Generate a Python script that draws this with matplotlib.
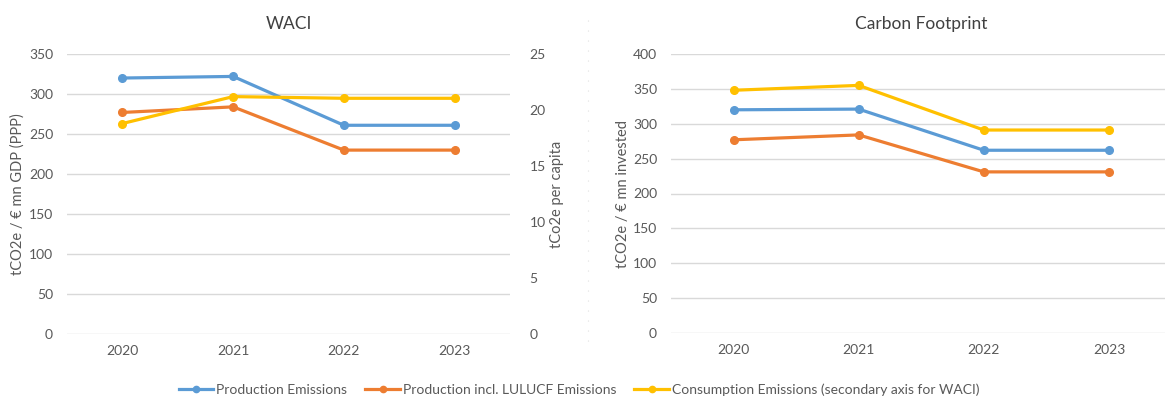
import matplotlib
matplotlib.use("Agg")
import matplotlib.pyplot as plt
from matplotlib.lines import Line2D

plt.rcParams['font.family'] = ['Lato', 'DejaVu Sans']

years = ["2020", "2021", "2022", "2023"]

# WACI (tCO2e / € mn GDP, PPP) and consumption per capita (secondary axis)
waci_production = [320, 322, 261, 261]
waci_lulucf = [277, 284, 230, 230]
waci_consumption_per_capita = [18.8, 21.2, 21.05, 21.05]

# Carbon footprint (tCO2e / € mn invested)
cf_production = [320, 321, 262, 262]
cf_lulucf = [277, 284, 231, 231]
cf_consumption = [348, 355, 291, 291]

series_names = ["Production Emissions",
                "Production incl. LULUCF Emissions",
                "Consumption Emissions (secondary axis for WACI)"]
colors = ["#5B9BD5", "#ED7D31", "#FFC000"]

text_color = "#595959"
grid_color = "#D9D9D9"
lw = 2.3
ms = 5.5

fig = plt.figure(figsize=(11.65, 3.99), dpi=100)

W, H = 1165, 399
def rect(l, r, t, b):
    return [l / W, 1 - b / H, (r - l) / W, (b - t) / H]

def style_axis(ax, ymax, step):
    ax.set_xlim(-0.5, len(years) - 0.5)
    ax.set_ylim(0, ymax)
    ax.set_yticks(range(0, ymax + 1, step))
    ax.set_xticks(range(len(years)))
    ax.set_xticklabels(years)
    ax.grid(axis='y', color=grid_color, linewidth=1.0)
    ax.set_axisbelow(True)
    for s in ax.spines.values():
        s.set_visible(False)
    ax.tick_params(axis='both', length=0, labelsize=10, colors=text_color)
    ax.tick_params(axis='y', pad=10)
    ax.tick_params(axis='x', pad=8)

x = list(range(len(years)))

# --- WACI panel ---
ax1 = fig.add_axes(rect(67, 510, 54, 334.3))
style_axis(ax1, 350, 50)
ax1.plot(x, waci_production, color=colors[0], lw=lw, marker='o', ms=ms, zorder=3)
ax1.plot(x, waci_lulucf, color=colors[1], lw=lw, marker='o', ms=ms, zorder=3)
ax1.set_ylabel("tCO2e / € mn GDP (PPP)", fontsize=10.5, color=text_color, labelpad=3)
ax1.set_title("WACI", fontsize=12.5, color="#404040", pad=18)

ax1b = ax1.twinx()
ax1b.set_ylim(0, 25)
ax1b.set_yticks(range(0, 26, 5))
for s in ax1b.spines.values():
    s.set_visible(False)
ax1b.tick_params(axis='y', length=0, labelsize=10, colors=text_color, pad=14)
ax1b.plot(x, waci_consumption_per_capita, color=colors[2], lw=lw, marker='o', ms=ms, zorder=3)
ax1b.set_ylabel("tCo2e per capita", fontsize=10.5, color=text_color, labelpad=3)

# --- Carbon Footprint panel ---
ax2 = fig.add_axes(rect(671, 1171.5, 54, 333))
style_axis(ax2, 400, 50)
ax2.plot(x, cf_production, color=colors[0], lw=lw, marker='o', ms=ms, zorder=3)
ax2.plot(x, cf_lulucf, color=colors[1], lw=lw, marker='o', ms=ms, zorder=3)
ax2.plot(x, cf_consumption, color=colors[2], lw=lw, marker='o', ms=ms, zorder=3)
ax2.set_ylabel("tCO2e / € mn invested", fontsize=10.5, color=text_color, labelpad=2)
ax2.set_title("Carbon Footprint", fontsize=12.5, color="#404040", pad=18)

# faint separator between the two charts
fig.add_artist(Line2D([588 / W, 588 / W], [1 - 20 / H, 1 - 350 / H],
                      transform=fig.transFigure, color="#E0E0E0",
                      lw=0.8, linestyle=(0, (1, 8))))

handles = [Line2D([], [], color=c, lw=lw, marker='o', ms=4.5) for c in colors]
fig.legend(handles, series_names, loc='center', bbox_to_anchor=(579 / W, 1 - 390 / H),
           ncol=3, frameon=False, fontsize=10, handlelength=2.5, handletextpad=0.2,
           columnspacing=1.3, labelcolor=text_color)

fig.savefig("out.png", dpi=100, facecolor="white")
